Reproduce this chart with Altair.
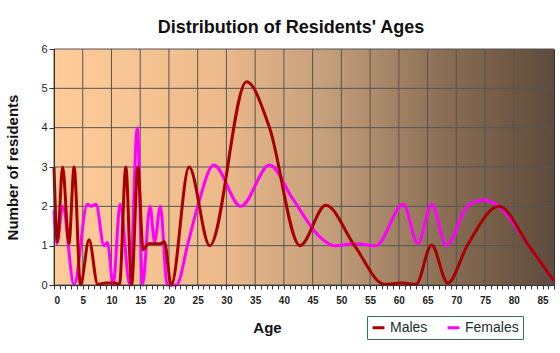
import altair as alt
import pandas as pd

male_ages = [0, 0.6, 1.5, 2.6, 3.5, 4.6, 6.1, 7.6, 9.0, 10.5, 11.4, 12.5, 13.5, 14.6, 15.5, 16.5, 18.5,
             19.2, 20.4, 23.5, 27.1, 33.5, 37.5, 42.8, 47.3, 52.3, 57.5, 60.5, 63.0, 65.7, 68.5, 71.9,
             77.4, 82.6, 87.0]
male_vals = [3.0, 1.1, 3.0, 1.05, 3.0, 0.0, 1.15, 0.02, 0.05, 0.05, 0.02, 3.0, 0.0, 3.0, 0.9, 1.05, 1.05,
             1.1, 0.0, 3.0, 1.0, 5.17, 4.0, 1.0, 2.03, 1.0, 0.02, 0.05, 0.02, 1.02, 0.05, 1.0,
             2.0, 1.0, 0.1]

female_ages = [0, 0.5, 1.5, 3.5, 5.8, 6.5, 7.3, 8.7, 9.3, 10.3, 11.5, 13.2, 14.5, 15.4, 16.7, 17.5, 18.5,
               19.7, 21.3, 23.3, 25.0, 27.8, 32.5, 37.5, 41.5, 46.2, 48.8, 52.3, 56.0, 60.8, 63.3, 65.7,
               68.3, 71.9, 74.8, 77.4, 82.6, 87.0]
female_vals = [1.9, 1.05, 2.0, 0.0, 2.05, 2.0, 2.05, 1.0, 1.08, 0.0, 2.05, 0.0, 4.0, 0.0, 2.0, 1.1, 2.0,
               0.0, 0.0, 1.05, 2.0, 3.05, 2.0, 3.05, 2.2, 1.23, 1.0, 1.05, 1.0, 2.05, 1.05, 2.05,
               1.0, 2.0, 2.16, 2.0, 1.0, 0.1]

series = ["Males", "Females"]
colors = ["#A80000", "#FF00FF"]
x_ticks = list(range(0, 88))
x_grid = list(range(0, 90, 5))
y_ticks = list(range(0, 7))

males = pd.DataFrame({"age": male_ages, "value": male_vals, "sex": "Males"})
females = pd.DataFrame({"age": female_ages, "value": female_vals, "sex": "Females"})
vgrid = pd.DataFrame({"age": x_grid})
hgrid = pd.DataFrame({"value": y_ticks})

x_scale = alt.Scale(domain=[0, 87], nice=False, zero=False)
y_scale = alt.Scale(domain=[0, 6], nice=False)

x_axis = alt.Axis(
    values=x_ticks,
    title="Age",
    grid=False,
    zindex=1,
    labelExpr="datum.value % 5 === 0 ? datum.label : ''",
    labelFontSize=10,
    labelFontWeight="bold",
    labelColor="#222222",
    labelFont="Liberation Sans",
    labelPadding=6,
    labelOverlap=False,
    tickSize=4,
    tickColor="#333333",
    domainColor="#333333",
    titleFont="Liberation Sans",
    titleFontSize=15,
    titleFontWeight="bold",
    titleColor="#111111",
    titleX=213,
    titleY=42,
    titleAlign="center",
    titleBaseline="middle",
)
y_axis = alt.Axis(
    values=y_ticks,
    title="Number of residents",
    grid=False,
    zindex=1,
    labelFontSize=11,
    labelColor="#222222",
    labelFont="Liberation Sans",
    labelPadding=2,
    labelOverlap=False,
    tickSize=5,
    tickColor="#333333",
    domainColor="#333333",
    titleFont="Liberation Sans",
    titleFontSize=15,
    titleFontWeight="bold",
    titleColor="#111111",
    titleX=-42,
    titleY=118,
    titleAngle=270,
    titleAlign="center",
    titleBaseline="middle",
)

x_enc = alt.X("age:Q", scale=x_scale, axis=x_axis)
y_enc = alt.Y("value:Q", scale=y_scale, axis=y_axis)
color_enc = alt.Color(
    "sex:N",
    scale=alt.Scale(domain=series, range=colors),
    legend=alt.Legend(
        title=None,
        orient="none",
        legendX=313,
        legendY=267,
        direction="horizontal",
        symbolType="stroke",
        symbolStrokeWidth=3,
        symbolSize=140,
        labelFontSize=14,
        labelFont="Liberation Sans",
        labelColor="#1a2e2e",
        labelOffset=4,
        columnPadding=13,
        padding=4,
        strokeColor="#2f6f6f",
    ),
)

gradient = alt.LinearGradient(
    gradient="linear",
    x1=0, x2=1, y1=0, y2=0,
    stops=[
        alt.GradientStop(offset=0, color="#FFCC99"),
        alt.GradientStop(offset=0.33, color="#EDBA8B"),
        alt.GradientStop(offset=0.55, color="#C39E7A"),
        alt.GradientStop(offset=0.78, color="#8A6E54"),
        alt.GradientStop(offset=1, color="#5E4B3A"),
    ],
)

bg = alt.Chart(hgrid).mark_rect(color=gradient).encode(
    x=alt.datum(0, scale=x_scale, axis=x_axis),
    x2=alt.datum(87),
    y=alt.datum(0, scale=y_scale, axis=y_axis),
    y2=alt.datum(6),
)
vrules = alt.Chart(vgrid).mark_rule(color="#555555", strokeWidth=1).encode(
    x=alt.X("age:Q", scale=x_scale, axis=x_axis)
)
hrules = alt.Chart(hgrid).mark_rule(color="#555555", strokeWidth=1).encode(
    y=alt.Y("value:Q", scale=y_scale, axis=y_axis)
)

fem_line = alt.Chart(females).mark_line(interpolate="monotone", strokeWidth=3).encode(
    x=x_enc, y=y_enc, color=color_enc
)
male_line = alt.Chart(males).mark_line(interpolate="monotone", strokeWidth=3).encode(
    x=x_enc, y=y_enc, color=color_enc
)

chart = (
    alt.layer(bg, vrules, hrules, fem_line, male_line)
    .properties(
        width=500,
        height=236,
        autosize=alt.AutoSizeParams(type="none"),
        padding={"left": 54, "top": 49, "right": 6, "bottom": 68},
        background="#ffffff",
        title=alt.TitleParams(
            text="Distribution of Residents' Ages",
            font="Liberation Sans",
            fontSize=18,
            fontWeight="bold",
            color="#111111",
            anchor="middle",
            frame="group",
            dx=-13,
            dy=26,
            offset=18,
            baseline="alphabetic",
        ),
    )
    .configure_view(stroke="#333333", strokeWidth=1)
)

chart.save("out.html", embed_options={"renderer": "svg", "actions": False})
